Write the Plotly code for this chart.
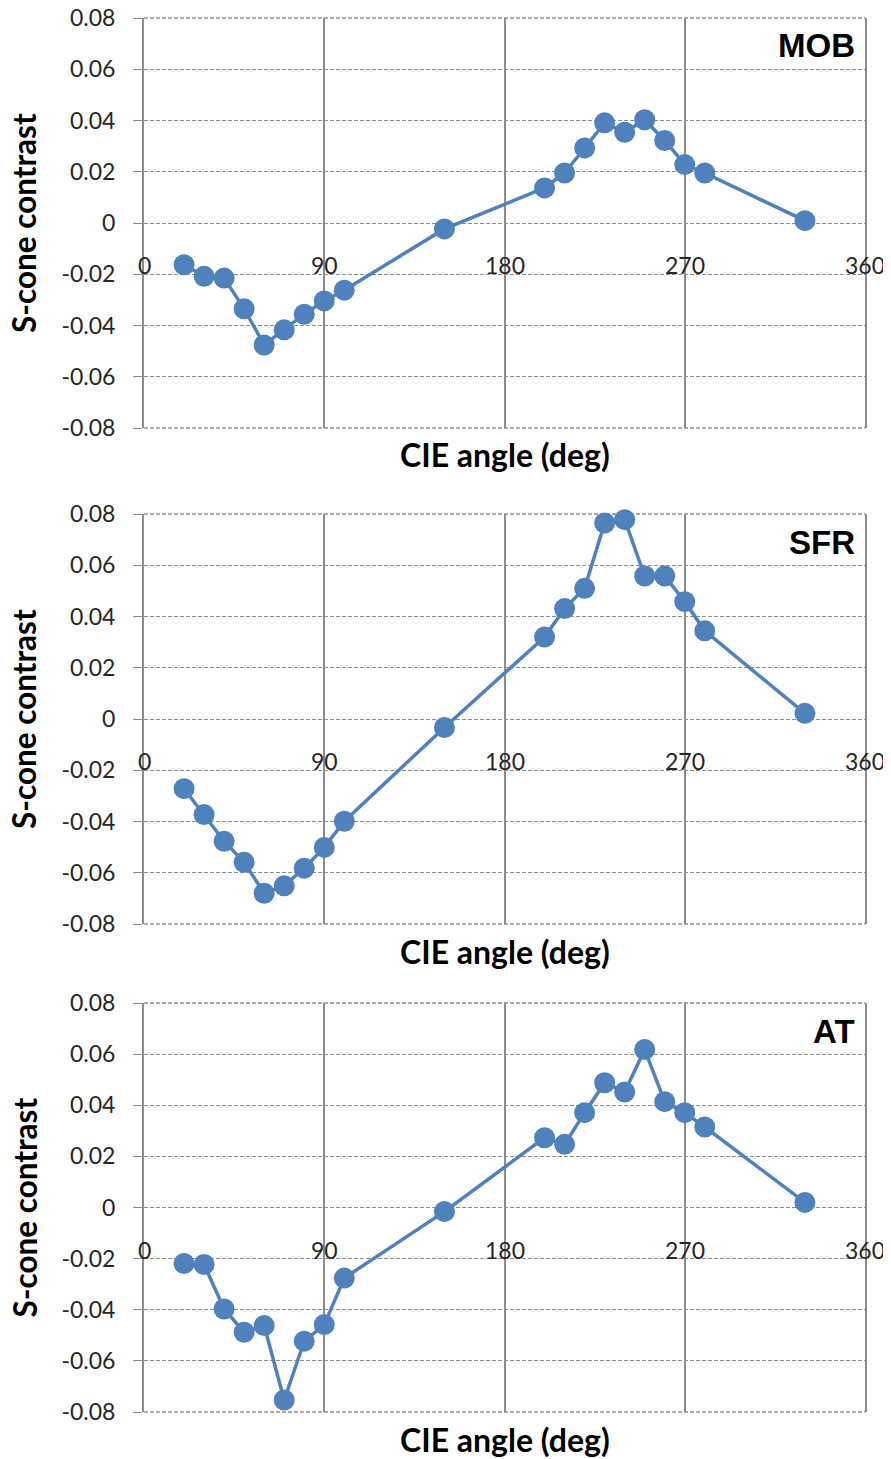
import plotly.graph_objects as go

angles = [20, 30, 40, 50, 60, 70, 80, 90, 100, 150, 200, 210, 220, 230, 240, 250, 260, 270, 280, 330]
mob = [-0.0163, -0.0208, -0.0215, -0.0335, -0.0476, -0.0417, -0.0356, -0.0304, -0.0262, -0.0023,
       0.0137, 0.0195, 0.0293, 0.0391, 0.0354, 0.0403, 0.0322, 0.0228, 0.0195, 0.0009]
sfr = [-0.0272, -0.0373, -0.0477, -0.0559, -0.0680, -0.0651, -0.0582, -0.0501, -0.0399, -0.0033,
       0.0320, 0.0431, 0.0510, 0.0765, 0.0778, 0.0558, 0.0558, 0.0458, 0.0344, 0.0022]
at = [-0.0219, -0.0223, -0.0397, -0.0488, -0.0462, -0.0753, -0.0523, -0.0458, -0.0276, -0.0016,
      0.0273, 0.0247, 0.0371, 0.0488, 0.0452, 0.0618, 0.0414, 0.0371, 0.0315, 0.0020]
panel_names = ["MOB", "SFR", "AT"]
x_ticks = [0, 90, 180, 270, 360]
y_ticks = [-0.08, -0.06, -0.04, -0.02, 0, 0.02, 0.04, 0.06, 0.08]
y_tick_text = ["-0.08", "-0.06", "-0.04", "-0.02", "0", "0.02", "0.04", "0.06", "0.08"]
x_title = "CIE angle (deg)"
y_title = "S-cone contrast"

# page body has an 8px margin at top-left; the figure fills the rest of the 891x1459 window
OFF = 8
W, H = 891 - OFF, 1459 - OFF
BLUE = "#4F81BD"
VGRID = "#8c8c8c"
HGRID = "#8f8f8f"
TXT = "#262626"
FONT = "Lato"

# pixel layout of each panel (top, bottom) in window coordinates
panels_px = [(18, 428), (514, 924), (1003, 1412)]
x_dom = [(144 - OFF) / W, (865 - OFF) / W]

fig = go.Figure()
series = [mob, sfr, at]
for i, (vals, name, (top, bot)) in enumerate(zip(series, panel_names, panels_px)):
    n = "" if i == 0 else str(i + 1)
    xa, ya = "x" + n, "y" + n
    fig.add_trace(go.Scatter(
        x=angles, y=vals, xaxis=xa, yaxis=ya, mode="lines+markers",
        line=dict(color=BLUE, width=3.5),
        marker=dict(color=BLUE, size=21),
        showlegend=False, cliponaxis=False,
    ))
    fig.layout["xaxis" + n] = dict(
        domain=x_dom, anchor=ya, range=[0, 360], tickvals=x_ticks,
        showticklabels=False, showgrid=True, gridcolor=VGRID, gridwidth=2,
        zeroline=False, showline=False, ticks="", automargin=False,
    )
    fig.layout["yaxis" + n] = dict(
        domain=[1 - (bot - OFF) / H, 1 - (top - OFF) / H], anchor=xa, range=[-0.08, 0.08],
        tickvals=y_ticks, ticktext=y_tick_text,
        showgrid=True, gridcolor=HGRID, gridwidth=1.3, griddash="4px,2px",
        zeroline=False, showline=True, mirror=True, linecolor=VGRID, linewidth=2,
        ticks="outside", ticklen=9, tickcolor=VGRID, tickwidth=1.3,
        tickfont=dict(family=FONT, size=23, color=TXT), ticklabelstandoff=13,
        ticklabeloverflow="allow", automargin=False,
    )
    # dashed frame lines at top and bottom of the plot area
    for yy in (0, 1):
        fig.add_shape(
            type="line", xref=xa + " domain", yref=ya + " domain",
            x0=0, x1=1, y0=yy, y1=yy, layer="below",
            line=dict(color=HGRID, width=1.3, dash="4px,2px"),
        )
    for xt in x_ticks:
        fig.add_annotation(
            x=xt, y=-0.02, xref=xa, yref=ya, text=str(xt), showarrow=False,
            xanchor="center", yanchor="bottom", yshift=-7,
            font=dict(family=FONT, size=23, color=TXT),
        )
    fig.add_annotation(
        x=1, y=1, xref=xa + " domain", yref=ya + " domain", text="<b>" + name + "</b>",
        showarrow=False, xanchor="right", yanchor="middle", xshift=-8, yshift=-28,
        font=dict(family="Liberation Sans", size=33, color="#000"),
    )
    # axis titles
    fig.add_annotation(
        x=0.5, y=1 - (bot + 27 - OFF) / H, xref=xa + " domain", yref="paper",
        text="<b>" + x_title + "</b>", showarrow=False, xanchor="center", yanchor="middle",
        font=dict(family=FONT, size=32, color="#000"),
    )
    fig.add_annotation(
        x=(24 - OFF) / W, y=0.5, xref="paper", yref=ya + " domain",
        text="<b>" + y_title + "</b>", showarrow=False, xanchor="center", yanchor="middle",
        textangle=-90, font=dict(family=FONT, size=31.5, color="#000"),
    )

fig.update_layout(
    width=W, height=H, margin=dict(l=0, r=0, t=0, b=0),
    paper_bgcolor="white", plot_bgcolor="white",
)
fig.write_html("out.html")
